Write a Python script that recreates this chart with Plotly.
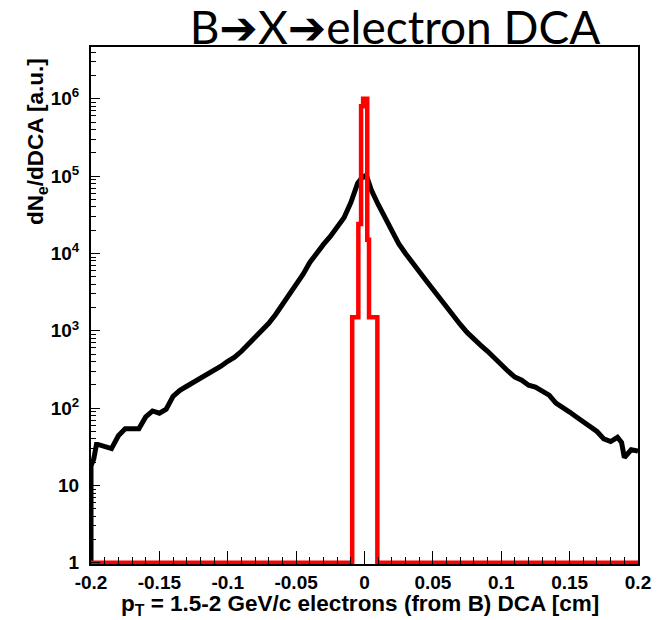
import plotly.graph_objects as go

# ---- data (DCA in cm, counts in a.u.) ----
dca_black = [-0.200, -0.200, -0.198, -0.196, -0.195, -0.190, -0.185, -0.180, -0.175, -0.170,
             -0.165, -0.160, -0.155, -0.150, -0.145, -0.140, -0.135, -0.130, -0.125, -0.120,
             -0.115, -0.110, -0.105, -0.100, -0.095, -0.090, -0.085, -0.080, -0.075, -0.070,
             -0.065, -0.060, -0.055, -0.050, -0.045, -0.040, -0.035, -0.030, -0.025, -0.020,
             -0.015, -0.010, -0.005, -0.002, 0.000, 0.002, 0.005, 0.010, 0.015, 0.020,
             0.025, 0.030, 0.035, 0.040, 0.045, 0.050, 0.055, 0.060, 0.065, 0.070,
             0.075, 0.080, 0.085, 0.090, 0.095, 0.100, 0.105, 0.110, 0.115, 0.120,
             0.125, 0.130, 0.135, 0.140, 0.145, 0.150, 0.155, 0.160, 0.165, 0.170,
             0.175, 0.180, 0.185, 0.188, 0.190, 0.195, 0.200]
counts_black = [1, 18, 22, 34, 34, 32, 30, 44, 54, 54,
                54, 77, 92, 86, 97, 142, 170, 192, 216, 237,
                266, 310, 348, 404, 457, 544, 670, 824, 985, 1250,
                1630, 2200, 2870, 3860, 5360, 7650, 10300, 13100, 16600, 21600,
                29000, 45500, 81000, 95000, 100000, 95000, 66000, 43000, 29000, 19200,
                13400, 10000, 7400, 5850, 4480, 3420, 2630, 2010, 1540, 1210,
                954, 777, 650, 544, 443, 360, 300, 252, 230, 198,
                187, 166, 147, 116, 103, 89, 77, 66, 57, 50,
                40, 37, 42, 36, 23, 29, 28]

red_edges = [-0.200, -0.009, -0.0045, -0.0025, -0.001, 0.002, 0.0033, 0.0094, 0.200]
red_counts = [1, 1500, 24000, 800000, 1000000, 15000, 1500, 1]

x_tick_vals = [-0.2, -0.15, -0.1, -0.05, 0.0, 0.05, 0.1, 0.15, 0.2]
x_tick_text = ["-0.2", "-0.15", "-0.1", "-0.05", "0", "0.05", "0.1", "0.15", "0.2"]
y_tick_vals = [1, 10, 100, 1000, 10000, 100000, 1000000]
y_tick_text = ["1", "10", "10<sup>2</sup>", "10<sup>3</sup>", "10<sup>4</sup>",
               "10<sup>5</sup>", "10<sup>6</sup>"]
y_minor_vals = [m * 10 ** d for d in range(0, 7) for m in range(2, 10)]

title_text = "B\u2794X\u2794electron DCA"
x_title = "p<sub>T</sub> = 1.5-2 GeV/c electrons (from B) DCA [cm]"
y_title = "dN<sub>e</sub>/dDCA [a.u.]"

# ---- figure ----
fig = go.Figure()
fig.add_trace(go.Scatter(x=dca_black, y=counts_black, mode="lines",
                         line=dict(color="black", width=5), showlegend=False))
fig.add_trace(go.Scatter(x=red_edges, y=red_counts + [red_counts[-1]], mode="lines",
                         line=dict(color="#ff0000", width=4.5, shape="hv"), showlegend=False))

FONT = "Liberation Sans, Arial, sans-serif"
tick_font = dict(family=FONT, size=19, color="black", weight="bold")
title_font = dict(family=FONT, size=22.5, color="black", weight="bold")

fig.update_layout(
    width=662, height=620,
    margin=dict(l=91, r=24, t=47, b=56),
    paper_bgcolor="white", plot_bgcolor="white",
    title=dict(text=title_text, x=395 / 662, xanchor="center", y=1 - 28 / 620, yanchor="middle",
               font=dict(family="Lato, DejaVu Sans, sans-serif", size=46, color="black")),
    xaxis=dict(range=[-0.2, 0.2], showgrid=False, zeroline=False,
               showline=True, linecolor="black", linewidth=2, mirror=True,
               ticks="inside", ticklen=13, tickwidth=1, tickcolor="black",
               tickmode="array", tickvals=x_tick_vals, ticktext=x_tick_text,
               tickfont=tick_font,
               minor=dict(ticks="inside", ticklen=7, tickwidth=1, tickcolor="black", dtick=0.01,
                          showgrid=False)),
    yaxis=dict(type="log", range=[-0.015, 6.67], showgrid=False, zeroline=False,
               showline=True, linecolor="black", linewidth=2, mirror=True,
               ticks="inside", ticklen=9, tickwidth=1, tickcolor="black",
               tickmode="array", tickvals=y_tick_vals, ticktext=y_tick_text,
               tickfont=tick_font, ticklabelstandoff=6,
               minor=dict(ticks="inside", ticklen=5, tickwidth=1, tickcolor="black",
                          tickmode="array", tickvals=y_minor_vals, showgrid=False)),
    annotations=[
        dict(text=y_title, textangle=-90, xref="paper", yref="paper",
             x=(37 - 91) / 547, y=(564 - 142) / 517, xanchor="center", yanchor="middle",
             showarrow=False, font=title_font),
        dict(text=x_title, xref="paper", yref="paper",
             x=(360 - 91) / 547, y=(564 - 589) / 517, xanchor="center", yanchor="top",
             showarrow=False, font=title_font),
    ],
)

fig.write_html("out.html")
